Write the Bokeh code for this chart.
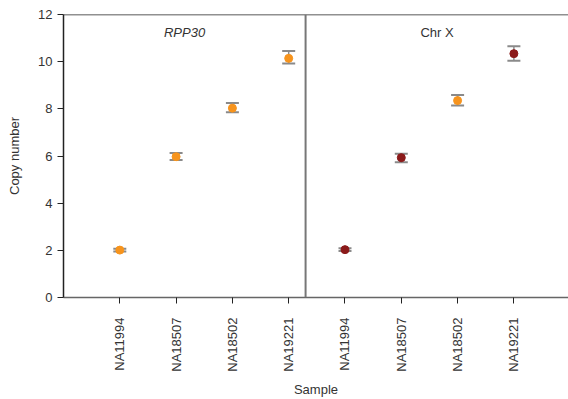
import math
from bokeh.plotting import figure
from bokeh.models import (Range1d, Span, Whisker, ColumnDataSource, FixedTicker,
                          Label, TeeHead)
from bokeh.embed import file_html
from bokeh.resources import INLINE

samples = ["NA11994", "NA18507", "NA18502", "NA19221"]
panel_titles = ["RPP30", "Chr X"]

rpp30_mean = [2.01, 5.97, 8.03, 10.14]
rpp30_lo = [1.95, 5.83, 7.85, 9.92]
rpp30_hi = [2.07, 6.13, 8.25, 10.45]
rpp30_color = ["#f7941d", "#f7941d", "#f7941d", "#f7941d"]

chrx_mean = [2.03, 5.93, 8.35, 10.34]
chrx_lo = [1.97, 5.73, 8.14, 10.04]
chrx_hi = [2.09, 6.10, 8.59, 10.65]
chrx_color = ["#8b1a1a", "#8b1a1a", "#f7941d", "#8b1a1a"]

FONT = "Liberation Sans"
TXT = "#333333"
divider = 4.3
xmax = 8.97

p = figure(width=568, height=399, output_backend="svg", toolbar_location=None,
           x_range=Range1d(0, xmax), y_range=Range1d(0, 12),
           min_border_left=63, min_border_right=0, min_border_top=14,
           min_border_bottom=101)
p.outline_line_color = None
p.xgrid.grid_line_color = None
p.ygrid.grid_line_color = None
p.background_fill_color = "white"
p.border_fill_color = "white"

panels = [
    (rpp30_mean, rpp30_lo, rpp30_hi, rpp30_color, 1),
    (chrx_mean, chrx_lo, chrx_hi, chrx_color, 5),
]
for mean, lo, hi, col, offset in panels:
    xs = [offset + i for i in range(len(samples))]
    src = ColumnDataSource(dict(x=xs, y=mean, lo=lo, hi=hi, c=col))
    w = Whisker(source=src, base="x", upper="hi", lower="lo",
                line_color="#8a8a8a", line_width=1.5,
                upper_head=TeeHead(size=13, line_color="#8a8a8a", line_width=2),
                lower_head=TeeHead(size=13, line_color="#8a8a8a", line_width=2))
    p.add_layout(w)
    p.scatter("x", "y", source=src, size=8, fill_color="c", line_color="c")

p.add_layout(Span(location=12, dimension="width", line_color="#222222", line_width=1.5))
p.add_layout(Span(location=divider, dimension="height", line_color="#777777", line_width=2))

p.add_layout(Label(x=divider / 2, y=11.25, text=panel_titles[0], text_align="center",
                   text_baseline="middle", text_font=FONT, text_font_style="italic",
                   text_font_size="13px", text_color=TXT))
p.add_layout(Label(x=(divider + xmax) / 2, y=11.25, text=panel_titles[1], text_align="center",
                   text_baseline="middle", text_font=FONT,
                   text_font_size="13px", text_color=TXT))

tick_pos = [1, 2, 3, 4, 5, 6, 7, 8]
p.xaxis.ticker = FixedTicker(ticks=tick_pos)
p.xaxis.major_label_overrides = {t: samples[(t - 1) % 4] for t in tick_pos}
p.xaxis.major_label_orientation = math.pi / 2
p.xaxis.axis_label = "Sample"
p.xaxis.axis_line_color = "#666666"
p.xaxis.axis_line_width = 1.5
p.xaxis.major_tick_line_color = "#222222"
p.xaxis.major_tick_out = 6
p.xaxis.major_tick_in = 0
p.xaxis.minor_tick_line_color = None
p.xaxis.major_label_standoff = 14
p.xaxis.axis_label_standoff = 7

p.yaxis.ticker = FixedTicker(ticks=[0, 2, 4, 6, 8, 10, 12])
p.yaxis.axis_label = "Copy number"
p.yaxis.axis_line_color = "#222222"
p.yaxis.axis_line_width = 1.5
p.yaxis.major_tick_line_color = "#222222"
p.yaxis.major_tick_out = 6
p.yaxis.major_tick_in = 0
p.yaxis.minor_tick_line_color = None
p.yaxis.major_label_standoff = 5
p.yaxis.axis_label_standoff = 13

for ax in (p.xaxis, p.yaxis):
    ax.major_label_text_font = FONT
    ax.major_label_text_font_size = "13px"
    ax.major_label_text_color = TXT
    ax.axis_label_text_font = FONT
    ax.axis_label_text_font_size = "13px"
    ax.axis_label_text_font_style = "normal"
    ax.axis_label_text_color = TXT

open("out.html", "w").write(file_html(p, INLINE))
